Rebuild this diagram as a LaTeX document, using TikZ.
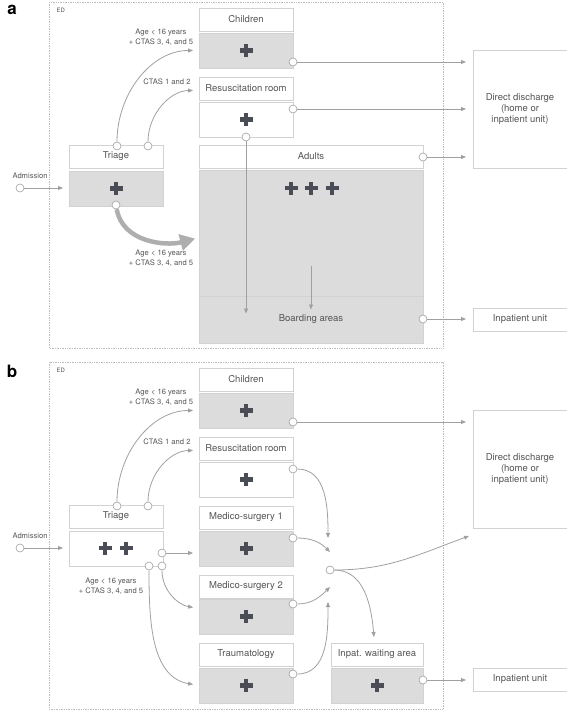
\documentclass[tikz,border=0pt]{standalone}
\usepackage{fontspec}
\setmainfont{TeX Gyre Heros}
\usepackage{tikz}
\usetikzlibrary{
  arrows.meta,
  calc}

\definecolor{boxline}{HTML}{D2D2D2}
\definecolor{bodygray}{HTML}{DCDCDC}
\definecolor{linegray}{HTML}{A0A0A0}
\definecolor{textgray}{HTML}{555555}
\definecolor{crossgray}{HTML}{4A4D55}
\definecolor{edline}{HTML}{BDBDBD}

\newcommand\hdrfont{\fontsize{9.5}{11}\selectfont}
\newcommand\notefont{\fontsize{7.6}{9.6}\selectfont}

\tikzset{
  hdr/.style={draw=boxline, line width=0.6pt, fill=white, text=textgray,
    minimum width=94pt, minimum height=23pt, inner sep=0pt, outer sep=0pt,
    anchor=north west, font=\hdrfont, align=center},
  bodybox/.style={hdr, fill=bodygray, minimum height=35pt},
  emptybox/.style={hdr, minimum height=35pt},
  port/.style={circle, draw=linegray, line width=0.6pt, fill=white,
    minimum size=8pt, inner sep=0pt},
  flow/.style={draw=linegray, line width=0.8pt,
    -{Triangle[length=5pt,width=4pt]}, shorten >=6pt},
  bigflow/.style={draw=linegray!85, line width=4.5pt,
    -{Triangle[length=15pt,width=16pt]}, shorten >=4pt},
  note/.style={font=\notefont, text=textgray, align=center},
  edframe/.style={draw=edline, line width=0.7pt, densely dotted},
  medcross/.pic={
    \fill[crossgray] (-6.5,-2.4) rectangle (6.5,2.4);
    \fill[crossgray] (-2.4,-6.5) rectangle (2.4,6.5);
  }
}

\begin{document}
\begin{tikzpicture}[x=1pt, y=-1pt]
\useasboundingbox (0,0) rectangle (567,712);

% ---------- panel a ----------
\node[font=\bfseries\fontsize{17}{17}\selectfont] (tagA) at (12,10) {a};
\draw[edframe] (49,2) rectangle (443,348);
\node[font=\fontsize{6}{6}\selectfont, text=textgray, anchor=west] (edA) at (53,10) {ED};

\node[hdr] (childA) at (199,8) {Children};
\node[bodybox] (childAb) at (199,33) {};
\pic at (childAb) {medcross};

\node[hdr] (resusA) at (199,77) {Resuscitation room};
\node[emptybox] (resusAb) at (199,102) {};
\pic at (resusAb) {medcross};

\node[hdr] (triA) at (69,145) {Triage};
\node[bodybox] (triAb) at (69,171) {};
\pic at (triAb) {medcross};

\node[hdr, minimum width=224pt] (adultA) at (199,145) {Adults};
\node[bodybox, minimum width=224pt, minimum height=173pt] (adultAb) at (199,170) {};
\foreach \cx in {291,311,332}
  \pic at (\cx,188) {medcross};
\node[bodybox, minimum width=224pt, minimum height=47pt] (boardA) at (199,296) {Boarding areas};

\node[hdr, minimum height=118pt] (dischA) at (473,50) {Direct discharge\\(home or\\inpatient unit)};
\node[hdr] (inpatA) at (473,308) {Inpatient unit};

\node[note] (admA) at (30,176) {Admission};
\node[port] (admApt) at (20,188) {};
\node[port] (triAp1) at (117,146) {};
\node[port] (triAp2) at (148,146) {};
\node[port] (triAp3) at (116,205) {};
\node[port] (childApt) at (293,62) {};
\node[port] (resusApt) at (293,109) {};
\node[port] (resusAp2) at (246,137) {};
\node[port] (adultApt) at (423,157) {};
\node[port] (boardApt) at (423,319) {};
\coordinate (stayA) at (311,266);

\node[note] (lblA1) at (161,37) {Age < 16 years\\+ CTAS 3, 4, and 5};
\node[note] (lblA2) at (167,82) {CTAS 1 and 2};
\node[note] (lblA3) at (161,258) {Age < 16 years\\+ CTAS 3, 4, and 5};

\draw[flow] (admApt) -- (admApt -| triAb.west);
\draw[flow] (triAp1) to[out=90, in=180] (childAb.west);
\draw[flow] (triAp2) to[out=90, in=180] ([yshift=-2pt]resusA.west);
\draw[bigflow] (triAp3) to[out=-80, in=195] ([yshift=19pt]adultAb.west);
\draw[flow] (resusAp2) -- (resusAp2 |- boardA.center);
\draw[flow, shorten >=10pt] (stayA) -- (stayA |- boardA.center);
\draw[flow, shorten >=7pt] (childApt) -- (childApt -| dischA.west);
\draw[flow, shorten >=7pt] (resusApt) -- (resusApt -| dischA.west);
\draw[flow, shorten >=7pt] (adultApt) -- (adultApt -| dischA.west);
\draw[flow, shorten >=7pt] (boardApt) -- (boardApt -| inpatA.west);

% ---------- panel b ----------
\node[font=\bfseries\fontsize{17}{17}\selectfont] (tagB) at (12,371) {b};
\draw[edframe] (49,362) rectangle (443,709);
\node[font=\fontsize{6}{6}\selectfont, text=textgray, anchor=west] (edB) at (53,370) {ED};

\node[hdr] (childB) at (199,368) {Children};
\node[bodybox] (childBb) at (199,393) {};
\pic at (childBb) {medcross};

\node[hdr] (resusB) at (199,437) {Resuscitation room};
\node[emptybox] (resusBb) at (199,462) {};
\pic at (resusBb) {medcross};

\node[hdr] (medoneB) at (199,506) {Medico-surgery 1};
\node[bodybox] (medoneBb) at (199,531) {};
\pic at (medoneBb) {medcross};

\node[hdr] (medtwoB) at (199,575) {Medico-surgery 2};
\node[bodybox] (medtwoBb) at (199,599) {};
\pic at (medtwoBb) {medcross};

\node[hdr] (traumaB) at (199,643) {Traumatology};
\node[bodybox] (traumaBb) at (199,668) {};
\pic at (traumaBb) {medcross};

\node[hdr, minimum width=92pt] (waitB) at (331,643) {Inpat. waiting area};
\node[bodybox, minimum width=92pt] (waitBb) at (331,668) {};
\pic at (waitBb) {medcross};

\node[hdr] (triB) at (69,505) {Triage};
\node[emptybox] (triBb) at (69,531) {};
\pic at (105,548) {medcross};
\pic at (126,548) {medcross};

\node[hdr, minimum height=118pt] (dischB) at (473,410) {Direct discharge\\(home or\\inpatient unit)};
\node[hdr] (inpatB) at (473,668) {Inpatient unit};

\node[note] (admB) at (30,536) {Admission};
\node[port] (admBpt) at (20,548) {};
\node[port] (triBp1) at (117,506) {};
\node[port] (triBp2) at (148,506) {};
\node[port] (triBp3) at (162,553) {};
\node[port] (triBp4) at (149,566) {};
\node[port] (triBp5) at (162,566) {};
\node[port] (childBpt) at (293,422) {};
\node[port] (resusBpt) at (293,469) {};
\node[port] (medoneBpt) at (293,538) {};
\node[port] (medtwoBpt) at (293,604) {};
\node[port] (traumaBpt) at (293,674) {};
\node[port] (waitBpt) at (423,680) {};
\node[port] (mergeB) at (330,570) {};
\coordinate (mergeIn1) at (328,538);
\coordinate (mergeIn2) at (330,552);
\coordinate (mergeIn3) at (330,587);
\coordinate (mergeIn4) at (328,602);
\coordinate (dischIn) at (469,536);
\coordinate (waitIn) at (374,637);

\node[note] (lblB1) at (161,397) {Age < 16 years\\+ CTAS 3, 4, and 5};
\node[note] (lblB2) at (167,442) {CTAS 1 and 2};
\node[note] (lblB3) at (111,586) {Age < 16 years\\+ CTAS 3, 4, and 5};

\draw[flow] (admBpt) -- (admBpt -| triBb.west);
\draw[flow] (triBp1) to[out=90, in=180] (childBb.west);
\draw[flow] (triBp2) to[out=90, in=180] ([yshift=-2pt]resusB.west);
\draw[flow] (triBp3) -- (triBp3 -| medoneBb.west);
\draw[flow] (triBp5) to[out=-90, in=170] ([yshift=8pt]medtwoBb.west);
\draw[flow] (triBp4) to[out=-90, in=170] (traumaBb.west);
\draw[flow, shorten >=0pt] (resusBpt) to[out=0, in=90] (mergeIn1);
\draw[flow, shorten >=0pt] (medoneBpt) to[out=0, in=135] (mergeIn2);
\draw[flow, shorten >=0pt] (medtwoBpt) to[out=0, in=-135] (mergeIn3);
\draw[flow, shorten >=0pt] (traumaBpt) to[out=0, in=-90] (mergeIn4);
\draw[flow, shorten >=0pt] (mergeB) to[out=0, in=-160] (dischIn);
\draw[flow, shorten >=0pt] (mergeB) to[out=0, in=95] (waitIn);
\draw[flow, shorten >=7pt] (childBpt) -- (childBpt -| dischB.west);
\draw[flow, shorten >=7pt] (waitBpt) -- (waitBpt -| inpatB.west);
\end{tikzpicture}
\end{document}
